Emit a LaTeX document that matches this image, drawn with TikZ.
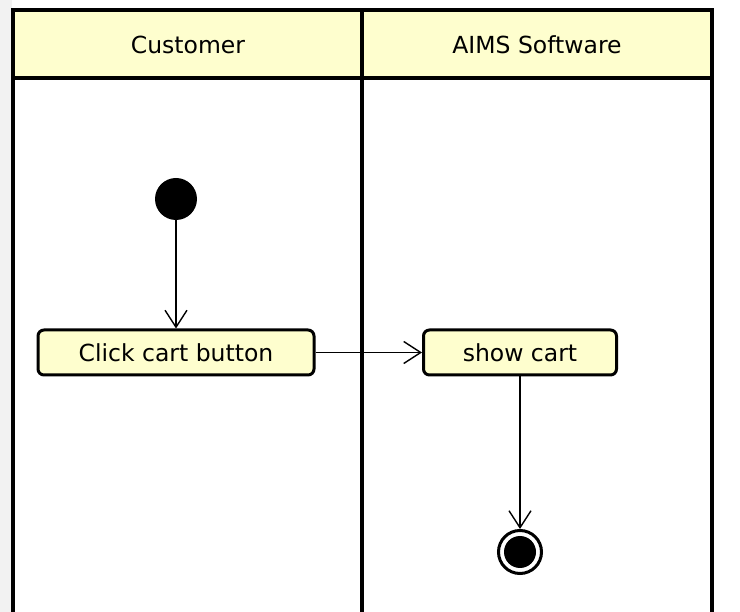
\documentclass[tikz,border=0pt]{standalone}
\usepackage{fontspec}
\setmainfont{DejaVu Sans}
\usetikzlibrary{arrows.meta}
\definecolor{umlfill}{HTML}{FEFECE}
\definecolor{sidegray}{HTML}{F2F2F2}

\begin{document}
\begin{tikzpicture}[x=1pt,y=-1pt,every node/.style={align=center,font=\fontsize{23.5}{28}\selectfont},
lane/.style={line width=3.2pt},
actionbox/.style={draw,line width=3pt,fill=umlfill,rounded corners=6pt,minimum height=45pt,inner sep=0pt},
startdot/.style={circle,fill=black,minimum size=42pt,inner sep=0pt},
flow/.style={line width=1.4pt,-{Straight Barb[length=17pt,width=22pt,line width=1.4pt]}}
]
\useasboundingbox (0,0) rectangle (740,612);
\fill[sidegray] (0,0) rectangle (12,612);
% swimlanes
\draw[lane,fill=umlfill] (13,10) rectangle (712,78);
\draw[lane] (13,10) -- (13,612);
\draw[lane] (362,10) -- (362,612);
\draw[lane] (712,10) -- (712,612);
\node (customer) at (188,45) {Customer};
\node (aims) at (537,45) {AIMS Software};
% activity
\node[startdot] (start) at (176,199) {};
\node[actionbox,minimum width=276pt] (click) at (176,352.5) {Click cart button};
\node[actionbox,minimum width=193pt] (show) at (520,352.5) {show cart};
\node[circle,draw,line width=3pt,minimum size=43pt,inner sep=0pt] (stop) at (520,552) {};
\node[circle,fill=black,minimum size=32pt,inner sep=0pt] (stopdot) at (stop) {};
\draw[flow] (start) -- (click);
\draw[flow] (click) -- (show);
\draw[flow] (show) -- (stop);
\end{tikzpicture}
\end{document}
